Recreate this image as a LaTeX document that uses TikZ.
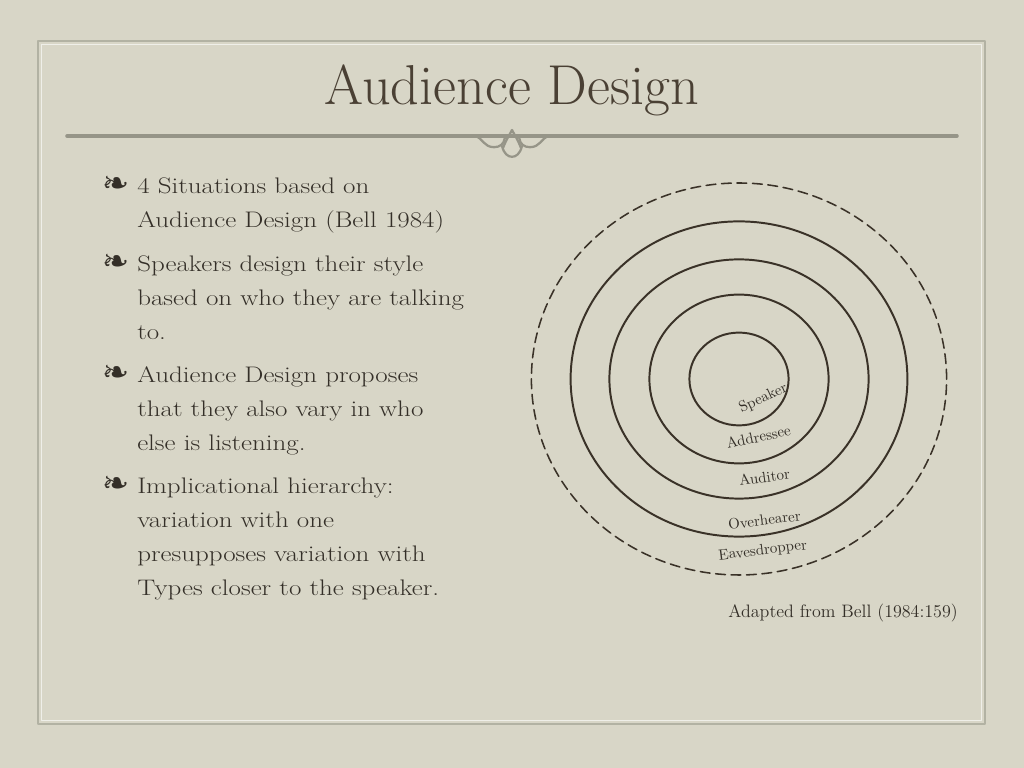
\documentclass[tikz,border=0pt]{standalone}
\usepackage{fontspec}
\usepackage{xcolor}
\usepackage{tikz}
\newfontfamily\dingfont{DejaVu Sans}
\newfontfamily\bodyfont[FakeStretch=1.2]{Latin Modern Roman}
\definecolor{bgcol}{RGB}{216,214,199}
\definecolor{txtcol}{RGB}{52,47,40}
\definecolor{titlecol}{RGB}{74,64,52}
\definecolor{rulecol}{RGB}{150,149,136}
\definecolor{framecol}{RGB}{178,178,163}
\definecolor{ringcol}{RGB}{58,50,40}

\begin{document}
\begin{tikzpicture}[line cap=round,line join=round,x=1.0cm,y=1.0cm,
	ring/.style={line width=1.4pt,color=ringcol},
	dashring/.style={line width=1.1pt,color=ringcol,dash pattern=on 7pt off 4pt},
	txt/.style={anchor=base west,inner sep=0pt,text=txtcol,font=\bodyfont\fontsize{16}{19}\selectfont},
	bul/.style={anchor=center,inner sep=0pt,text=txtcol,font=\dingfont\fontsize{23}{26}\selectfont},
	lbl/.style={inner sep=0pt,text=txtcol,font=\fontsize{10.7}{12}\selectfont},
	orn/.style={line width=1.6pt,color=rulecol}]
			\fill[bgcol] (0,0) rectangle (25.6,19.2);
			\useasboundingbox (0,0) rectangle (25.6,19.2);
			% frame
			\draw [line width=1.2pt,color=framecol] (0.95,1.1) rectangle (24.625,18.175);
			\draw [line width=0.5pt,color=white!60!bgcol] (1.03,1.18) rectangle (24.545,18.095);
			% title and rule
			\node[anchor=base,inner sep=0pt,text=titlecol,font=\fontsize{40}{46}\selectfont] (title) at (12.8,16.575) {Audience Design};
			\draw [line width=2.5pt,color=rulecol] (1.675,15.8)-- (23.925,15.8);
			\draw [orn] (11.9,15.8) .. controls (12.05,15.75) and (12.1,15.52) .. (12.35,15.52) .. controls (12.5,15.52) and (12.6,15.6) .. (12.62,15.75);
			\draw [orn] (13.7,15.8) .. controls (13.55,15.75) and (13.5,15.52) .. (13.25,15.52) .. controls (13.1,15.52) and (13.0,15.6) .. (12.98,15.75);
			\draw [orn] (12.575,15.5) .. controls (12.65,15.7) and (12.75,15.85) .. (12.8,15.95) .. controls (12.85,15.85) and (12.95,15.7) .. (13.025,15.5);
			\draw [orn] (12.55,15.55) .. controls (12.6,15.35) and (12.7,15.28) .. (12.8,15.28) .. controls (12.9,15.28) and (13.0,15.35) .. (13.05,15.55);
			% bullets
			\node[bul] (b1) at (2.9,14.5625) {❧};
			\node[bul] (b2) at (2.9,12.6125) {❧};
			\node[bul] (b3) at (2.9,9.8375) {❧};
			\node[bul] (b4) at (2.9,7.0625) {❧};
			\node[txt] (l1) at (3.425,14.35) {4 Situations based on};
			\node[txt] (l2) at (3.425,13.5) {Audience Design (Bell 1984)};
			\node[txt] (l3) at (3.425,12.4) {Speakers design their style};
			\node[txt] (l4) at (3.425,11.55) {based on who they are talking};
			\node[txt] (l5) at (3.425,10.7) {to.};
			\node[txt] (l6) at (3.425,9.625) {Audience Design proposes};
			\node[txt] (l7) at (3.425,8.775) {that they also vary in who};
			\node[txt] (l8) at (3.425,7.925) {else is listening.};
			\node[txt] (l9) at (3.425,6.85) {Implicational hierarchy:};
			\node[txt] (l10) at (3.425,6.0) {variation with one};
			\node[txt] (l11) at (3.425,5.15) {presupposes variation with};
			\node[txt] (l12) at (3.425,4.3) {Types closer to the speaker.};
			% rings
			\draw [dashring] (18.475,9.725) ellipse (5.19cm and 4.9cm);
			\draw [ring] (18.475,9.725) ellipse (4.21cm and 3.94cm);
			\draw [ring] (18.475,9.725) ellipse (3.24cm and 2.99cm);
			\draw [ring] (18.475,9.725) ellipse (2.24cm and 2.11cm);
			\draw [ring] (18.475,9.725) ellipse (1.24cm and 1.16cm);
			\node[lbl,rotate=25] (spk) at (19.08,9.24) {Speaker};
			\node[lbl,rotate=12] (adr) at (18.96,8.28) {Addressee};
			\node[lbl,rotate=8] (aud) at (19.11,7.27) {Auditor};
			\node[lbl,rotate=7] (ovh) at (19.11,6.2) {Overhearer};
			\node[lbl,rotate=7] (eav) at (19.07,5.425) {Eavesdropper};
			\node[anchor=base east,inner sep=0pt,text=txtcol,font=\fontsize{12.8}{15}\selectfont] (src) at (23.95,3.75) {Adapted from Bell (1984:159)};
		\end{tikzpicture}
\end{document}
